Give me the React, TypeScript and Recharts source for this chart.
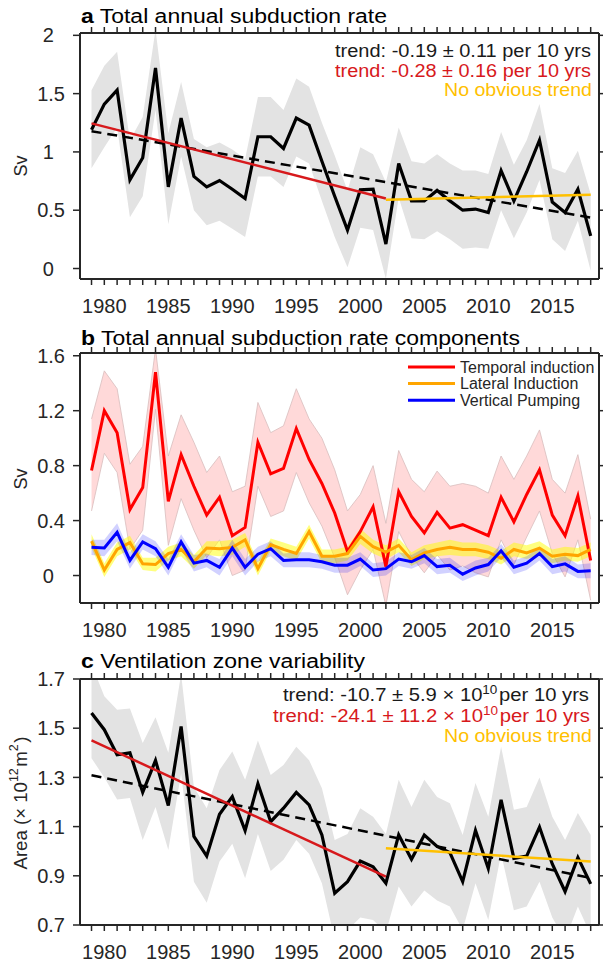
import { ComposedChart, Line, Area, XAxis, YAxis } from "recharts";

const FONT = '"Liberation Sans", Arial, Helvetica, sans-serif';
const INK = "#262626";
const RED_TREND = "#d7191c";
const YELLOW_TREND = "#ffc000";

const years = [
    1979, 1980, 1981, 1982, 1983, 1984, 1985, 1986, 1987, 1988,
    1989, 1990, 1991, 1992, 1993, 1994, 1995, 1996, 1997, 1998,
    1999, 2000, 2001, 2002, 2003, 2004, 2005, 2006, 2007, 2008,
    2009, 2010, 2011, 2012, 2013, 2014, 2015, 2016, 2017, 2018,
];

/* a: total annual subduction rate (Sv) with its uncertainty envelope */
const totalRate = [
    1.19, 1.41, 1.53, 0.76, 0.95, 1.72, 0.70, 1.29, 0.79, 0.70,
    0.755, 0.68, 0.60, 1.13, 1.13, 1.03, 1.29, 1.23, 0.92, 0.62,
    0.33, 0.675, 0.68, 0.21, 0.90, 0.58, 0.58, 0.67, 0.58, 0.50,
    0.51, 0.48, 0.84, 0.58, 0.83, 1.10, 0.57, 0.48, 0.68, 0.28,
];
const totalRateHi = [
    1.53, 1.74, 1.86, 1.10, 1.30, 2.05, 1.16, 1.60, 1.11, 1.04,
    1.08, 1.02, 0.94, 1.47, 1.47, 1.36, 1.63, 1.56, 1.25, 0.97,
    0.67, 1.04, 0.98, 0.74, 1.21, 0.92, 0.90, 0.98, 0.90, 0.84,
    0.84, 0.81, 1.17, 0.89, 1.10, 1.41, 0.86, 0.82, 1.01, 0.64,
];
const totalRateLo = [
    0.86, 1.04, 1.21, 0.44, 0.62, 1.36, 0.38, 0.96, 0.50, 0.37,
    0.41, 0.34, 0.27, 0.79, 0.79, 0.70, 0.96, 0.90, 0.58, 0.27,
    0.01, 0.35, 0.33, -0.09, 0.61, 0.26, 0.25, 0.32, 0.25, 0.17,
    0.18, 0.17, 0.50, 0.26, 0.48, 0.76, 0.25, 0.15, 0.41, -0.02,
];

/* b: the three components */
const temporal = [
    0.765, 1.20, 1.04, 0.48, 0.64, 1.48, 0.54, 0.88, 0.65, 0.44,
    0.57, 0.29, 0.35, 0.97, 0.74, 0.78, 1.07, 0.845, 0.67, 0.455,
    0.175, 0.32, 0.50, 0.065, 0.61, 0.43, 0.31, 0.46, 0.345, 0.37,
    0.33, 0.29, 0.57, 0.39, 0.59, 0.77, 0.44, 0.29, 0.58, 0.11,
];
const temporalHi = [
    1.14, 1.49, 1.36, 0.81, 0.94, 1.65, 0.87, 1.17, 0.97, 0.75,
    0.87, 0.61, 0.65, 1.26, 1.04, 1.09, 1.36, 1.14, 1.00, 0.77,
    0.47, 0.59, 0.80, 0.38, 0.91, 0.70, 0.61, 0.76, 0.65, 0.67,
    0.65, 0.60, 0.87, 0.70, 0.87, 1.06, 0.70, 0.60, 0.88, 0.41,
];
const temporalLo = [
    0.47, 0.89, 0.75, 0.19, 0.33, 1.21, 0.22, 0.56, 0.33, 0.13,
    0.26, 0.00, 0.04, 0.65, 0.43, 0.47, 0.75, 0.53, 0.36, 0.13,
    -0.14, 0.04, 0.19, -0.22, 0.32, 0.14, 0.02, 0.15, 0.04, 0.07,
    0.02, -0.01, 0.26, 0.08, 0.28, 0.47, 0.16, -0.01, 0.26, -0.18,
];
const lateral = [
    0.25, 0.04, 0.19, 0.24, 0.085, 0.08, 0.16, 0.19, 0.10, 0.20,
    0.195, 0.205, 0.26, 0.05, 0.225, 0.19, 0.16, 0.32, 0.14, 0.14,
    0.16, 0.285, 0.21, 0.17, 0.22, 0.115, 0.165, 0.19, 0.205, 0.19,
    0.19, 0.17, 0.125, 0.19, 0.165, 0.20, 0.14, 0.155, 0.145, 0.19,
];
const lateralHi = [
    0.30, 0.09, 0.24, 0.29, 0.13, 0.13, 0.21, 0.24, 0.15, 0.25,
    0.25, 0.26, 0.31, 0.10, 0.27, 0.24, 0.21, 0.37, 0.19, 0.19,
    0.21, 0.34, 0.26, 0.22, 0.27, 0.17, 0.22, 0.24, 0.26, 0.24,
    0.24, 0.22, 0.18, 0.24, 0.22, 0.25, 0.19, 0.21, 0.20, 0.24,
];
const lateralLo = [
    0.20, -0.01, 0.14, 0.19, 0.04, 0.03, 0.11, 0.14, 0.05, 0.15,
    0.14, 0.15, 0.21, 0.00, 0.18, 0.14, 0.11, 0.27, 0.09, 0.09,
    0.11, 0.23, 0.16, 0.12, 0.17, 0.07, 0.12, 0.14, 0.15, 0.14,
    0.14, 0.12, 0.08, 0.14, 0.12, 0.15, 0.09, 0.11, 0.10, 0.14,
];
const vertical = [
    0.205, 0.20, 0.315, 0.11, 0.245, 0.195, 0.06, 0.245, 0.09, 0.11,
    0.06, 0.20, 0.06, 0.155, 0.195, 0.11, 0.115, 0.115, 0.10, 0.075,
    0.075, 0.12, 0.04, 0.05, 0.12, 0.10, 0.145, 0.065, 0.075, 0.01,
    0.055, 0.08, 0.18, 0.06, 0.09, 0.16, 0.065, 0.085, 0.03, 0.035,
];
const verticalHi = [
    0.26, 0.26, 0.38, 0.17, 0.30, 0.25, 0.12, 0.30, 0.15, 0.16,
    0.12, 0.26, 0.12, 0.21, 0.25, 0.16, 0.17, 0.17, 0.15, 0.13,
    0.13, 0.17, 0.09, 0.10, 0.17, 0.15, 0.20, 0.12, 0.13, 0.06,
    0.11, 0.13, 0.23, 0.11, 0.14, 0.21, 0.12, 0.14, 0.08, 0.09,
];
const verticalLo = [
    0.15, 0.14, 0.25, 0.05, 0.19, 0.14, 0.00, 0.19, 0.03, 0.06,
    0.00, 0.14, 0.00, 0.10, 0.14, 0.06, 0.06, 0.06, 0.05, 0.02,
    0.02, 0.07, -0.01, 0.00, 0.07, 0.05, 0.09, 0.01, 0.02, -0.04,
    0.00, 0.03, 0.13, 0.01, 0.04, 0.11, 0.01, 0.03, -0.02, -0.02,
];

/* c: ventilation zone area (10^12 m2) */
const ventArea = [
    1.562, 1.494, 1.392, 1.40, 1.239, 1.369, 1.186, 1.507, 1.06, 0.98,
    1.15, 1.222, 1.084, 1.274, 1.12, 1.175, 1.239, 1.188, 1.066, 0.829,
    0.876, 0.96, 0.937, 0.87, 1.066, 0.967, 1.066, 1.019, 0.994, 0.876,
    1.084, 0.93, 1.209, 0.971, 0.98, 1.098, 0.948, 0.836, 0.974, 0.867,
];
const ventAreaHi = [
    1.76, 1.63, 1.575, 1.58, 1.44, 1.545, 1.40, 1.72, 1.26, 1.175,
    1.33, 1.405, 1.29, 1.45, 1.31, 1.35, 1.425, 1.37, 1.256, 1.046,
    1.07, 1.175, 1.14, 1.07, 1.29, 1.18, 1.29, 1.22, 1.195, 1.066,
    1.277, 1.14, 1.425, 1.168, 1.18, 1.30, 1.14, 1.046, 1.155, 1.066,
];
const ventAreaLo = [
    1.378, 1.30, 1.21, 1.216, 1.046, 1.18, 1.005, 1.317, 0.876, 0.79,
    0.958, 1.03, 0.89, 1.07, 0.92, 0.965, 1.046, 0.99, 0.87, 0.64,
    0.68, 0.73, 0.72, 0.67, 0.856, 0.775, 0.84, 0.80, 0.775, 0.68,
    0.87, 0.72, 0.99, 0.76, 0.775, 0.876, 0.73, 0.64, 0.775, 0.66,
];

// fitted trends: slope is per 10 years, anchored at the middle of the fit window
type Trend = { from: number; to: number; midValue: number; perDecade: number };
const rateTrendAll: Trend = { from: 1979, to: 2018, midValue: 0.8075, perDecade: -0.19 };
const rateTrendEarly: Trend = { from: 1979, to: 2002, midValue: 0.923, perDecade: -0.28 };
const rateLateEnds = [0.59, 0.633]; // 2002, 2018
const areaTrendAll: Trend = { from: 1979, to: 2018, midValue: 1.10, perDecade: -0.107 };
const areaTrendEarly: Trend = { from: 1979, to: 2002, midValue: 1.1735, perDecade: -0.241 };
const areaLateEnds = [1.012, 0.958]; // 2002, 2018

const trendAt = (t: Trend, year: number) => {
    if (year !== t.from && year !== t.to) return null;
    const mid = (t.from + t.to) / 2;
    return t.midValue + (t.perDecade / 10) * (year - mid);
};
const lateAt = (ends: number[], year: number) =>
    year === 2002 ? ends[0] : year === 2018 ? ends[1] : null;

const rateRows = years.map((year, i) => ({
    year,
    v: totalRate[i],
    band: [totalRateLo[i], totalRateHi[i]],
    all: trendAt(rateTrendAll, year),
    early: trendAt(rateTrendEarly, year),
    late: lateAt(rateLateEnds, year),
}));

const componentRows = years.map((year, i) => ({
    year,
    temporal: temporal[i],
    temporalBand: [temporalLo[i], temporalHi[i]],
    lateral: lateral[i],
    lateralBand: [lateralLo[i], lateralHi[i]],
    vertical: vertical[i],
    verticalBand: [verticalLo[i], verticalHi[i]],
}));

const areaRows = years.map((year, i) => ({
    year,
    v: ventArea[i],
    band: [ventAreaLo[i], ventAreaHi[i]],
    all: trendAt(areaTrendAll, year),
    early: trendAt(areaTrendEarly, year),
    late: lateAt(areaLateEnds, year),
}));

const X_DOMAIN = [1978.1, 2018.65];
const axisLine = { stroke: INK, strokeWidth: 2 };
const tickLine = { stroke: INK, strokeWidth: 1.5 };
const tickFont = { fontSize: 20, fill: INK, fontFamily: FONT };
const MARGIN = { top: 28, right: 0, bottom: 0, left: 0 };

// matlab pads short tick labels on the right
const padLabel = (v: number) => (Number.isInteger(v) ? `${v}\u00A0\u00A0` : String(v));

const frame = (yDomain: number[], yTicks: number[], fmt: (v: number) => string) => [
    <XAxis
        key="xb"
        xAxisId="b"
        dataKey="year"
        type="number"
        domain={X_DOMAIN}
        ticks={years}
        interval={0}
        allowDataOverflow
        tickFormatter={(y: number) => (y % 5 === 0 ? String(y) : "")}
        tickSize={6}
        tickMargin={14}
        axisLine={axisLine}
        tickLine={tickLine}
        tick={tickFont}
        height={40}
    />,
    <XAxis
        key="xt"
        xAxisId="t"
        orientation="top"
        dataKey="year"
        type="number"
        domain={X_DOMAIN}
        ticks={years}
        interval={0}
        allowDataOverflow
        tickFormatter={() => ""}
        tickSize={6}
        axisLine={axisLine}
        tickLine={tickLine}
        height={5}
    />,
    <YAxis
        key="yl"
        yAxisId="l"
        type="number"
        domain={yDomain}
        ticks={yTicks}
        interval={0}
        allowDataOverflow
        tickFormatter={fmt}
        tickSize={7}
        tickMargin={8}
        axisLine={axisLine}
        tickLine={tickLine}
        tick={tickFont}
        width={80}
    />,
    <YAxis
        key="yr"
        yAxisId="r"
        orientation="right"
        type="number"
        domain={yDomain}
        ticks={yTicks}
        interval={0}
        allowDataOverflow
        tickFormatter={() => ""}
        tickSize={5}
        axisLine={axisLine}
        tickLine={tickLine}
        width={4}
    />,
];

const series = { xAxisId: "b", yAxisId: "l", isAnimationActive: false, dot: false, activeDot: false, type: "linear" as const };

const TrendPanel = ({ rows, top, yDomain, yTicks, fmt }: any) => (
    <div style={{ position: "absolute", left: 0, top }}>
        <ComposedChart width={603} height={319} data={rows} margin={MARGIN}>
            {frame(yDomain, yTicks, fmt)}
            <Area {...series} dataKey="band" stroke="none" fill="#e3e3e3" fillOpacity={1} />
            <Line {...series} dataKey="v" stroke="#000" strokeWidth={3.2} />
            <Line {...series} dataKey="all" stroke="#000" strokeWidth={2.5} strokeDasharray="10 6" connectNulls />
            <Line {...series} dataKey="early" stroke={RED_TREND} strokeWidth={2.5} connectNulls />
            <Line {...series} dataKey="late" stroke={YELLOW_TREND} strokeWidth={2.5} connectNulls />
        </ComposedChart>
    </div>
);

const legendItems = [
    { name: "Temporal induction", color: "#ff0000" },
    { name: "Lateral Induction", color: "#ffa500" },
    { name: "Vertical Pumping", color: "#0000ff" },
];

const Sup = ({ children }: any) => (
    <>
        <tspan dy={-7} fontSize={12}>{children}</tspan>
        <tspan dy={7}>{"\u200A"}</tspan>
    </>
);

// text in this figure is set a little wide, so each line is fitted to its width
const fit = (w: number) => ({ textLength: w, lengthAdjust: "spacingAndGlyphs" });

export default function App() {
    return (
        <div
            style={{
                position: "absolute",
                left: 0,
                top: 0,
                width: 603,
                height: 965,
                overflow: "hidden",
                background: "#fff",
                fontFamily: FONT,
            }}
        >
            <TrendPanel rows={rateRows} top={0} yDomain={[-0.09, 2.02]} yTicks={[0, 0.5, 1, 1.5, 2]} fmt={padLabel} />

            <div style={{ position: "absolute", left: 0, top: 320 }}>
                <ComposedChart width={603} height={323} data={componentRows} margin={MARGIN}>
                    {frame([-0.2, 1.62], [0, 0.4, 0.8, 1.2, 1.6], padLabel)}
                    <Area {...series} dataKey="temporalBand" stroke="#d8bcbc" strokeWidth={0.8} fill="#ff0000" fillOpacity={0.15} />
                    <Area {...series} dataKey="lateralBand" stroke="none" fill="#ffff00" fillOpacity={0.5} />
                    <Area {...series} dataKey="verticalBand" stroke="none" fill="#0000ff" fillOpacity={0.18} />
                    <Line {...series} dataKey="temporal" stroke="#ff0000" strokeWidth={3} />
                    <Line {...series} dataKey="lateral" stroke="#ffa500" strokeWidth={3} />
                    <Line {...series} dataKey="vertical" stroke="#0000ff" strokeWidth={3} />
                </ComposedChart>
            </div>

            <TrendPanel rows={areaRows} top={646} yDomain={[0.7, 1.7]} yTicks={[0.7, 0.9, 1.1, 1.3, 1.5, 1.7]} fmt={(v: number) => v.toFixed(1)} />

            <svg
                width={603}
                height={965}
                style={{ position: "absolute", left: 0, top: 0, pointerEvents: "none" }}
                fontFamily={FONT}
            >
                {/* panel titles */}
                <text x={81} y={23} fontSize={20} fill="#000" {...fit(306)}>
                    <tspan fontWeight="bold">a</tspan> Total annual subduction rate
                </text>
                <text x={81} y={345} fontSize={20} fill="#000" {...fit(439)}>
                    <tspan fontWeight="bold">b</tspan> Total annual subduction rate components
                </text>
                <text x={81} y={668} fontSize={20} fill="#000" {...fit(284)}>
                    <tspan fontWeight="bold">c</tspan> Ventilation zone variability
                </text>

                {/* y labels */}
                <text transform="translate(21,166) rotate(-90)" textAnchor="middle" dominantBaseline="central" fontSize={18} fill={INK}>
                    Sv
                </text>
                <text transform="translate(21,479) rotate(-90)" textAnchor="middle" dominantBaseline="central" fontSize={18} fill={INK}>
                    Sv
                </text>
                <text transform="translate(21,803) rotate(-90)" textAnchor="middle" dominantBaseline="central" fontSize={18} fill={INK} {...fit(133)}>
                    Area (× 10<Sup>12</Sup>m<Sup>2</Sup>)
                </text>

                {/* trend notes, panel a */}
                <g textAnchor="end" fontSize={18}>
                    <text x={591} y={57} fill="#1a1a1a" {...fit(256)}>trend: -0.19 ± 0.11 per 10 yrs</text>
                    <text x={591} y={76.5} fill={RED_TREND} {...fit(256)}>trend: -0.28 ± 0.16 per 10 yrs</text>
                    <text x={592} y={96} fill={YELLOW_TREND} {...fit(148)}>No obvious trend</text>
                </g>

                {/* trend notes, panel c */}
                <g textAnchor="end" fontSize={18}>
                    <text x={589} y={701} fill="#1a1a1a" {...fit(306)}>
                        trend: -10.7 ± 5.9 × 10<Sup>10</Sup>per 10 yrs
                    </text>
                    <text x={590} y={721.5} fill={RED_TREND} {...fit(317)}>
                        trend: -24.1 ± 11.2 × 10<Sup>10</Sup>per 10 yrs
                    </text>
                    <text x={592} y={742} fill={YELLOW_TREND} {...fit(148)}>No obvious trend</text>
                </g>

                {/* legend, panel b */}
                {legendItems.map((item, i) => (
                    <g key={item.name}>
                        <line x1={408} x2={455} y1={367 + i * 16.6} y2={367 + i * 16.6} stroke={item.color} strokeWidth={3} />
                        <text x={460} y={372.5 + i * 16.6} fontSize={16} fill={INK}>
                            {item.name}
                        </text>
                    </g>
                ))}
            </svg>
        </div>
    );
}
